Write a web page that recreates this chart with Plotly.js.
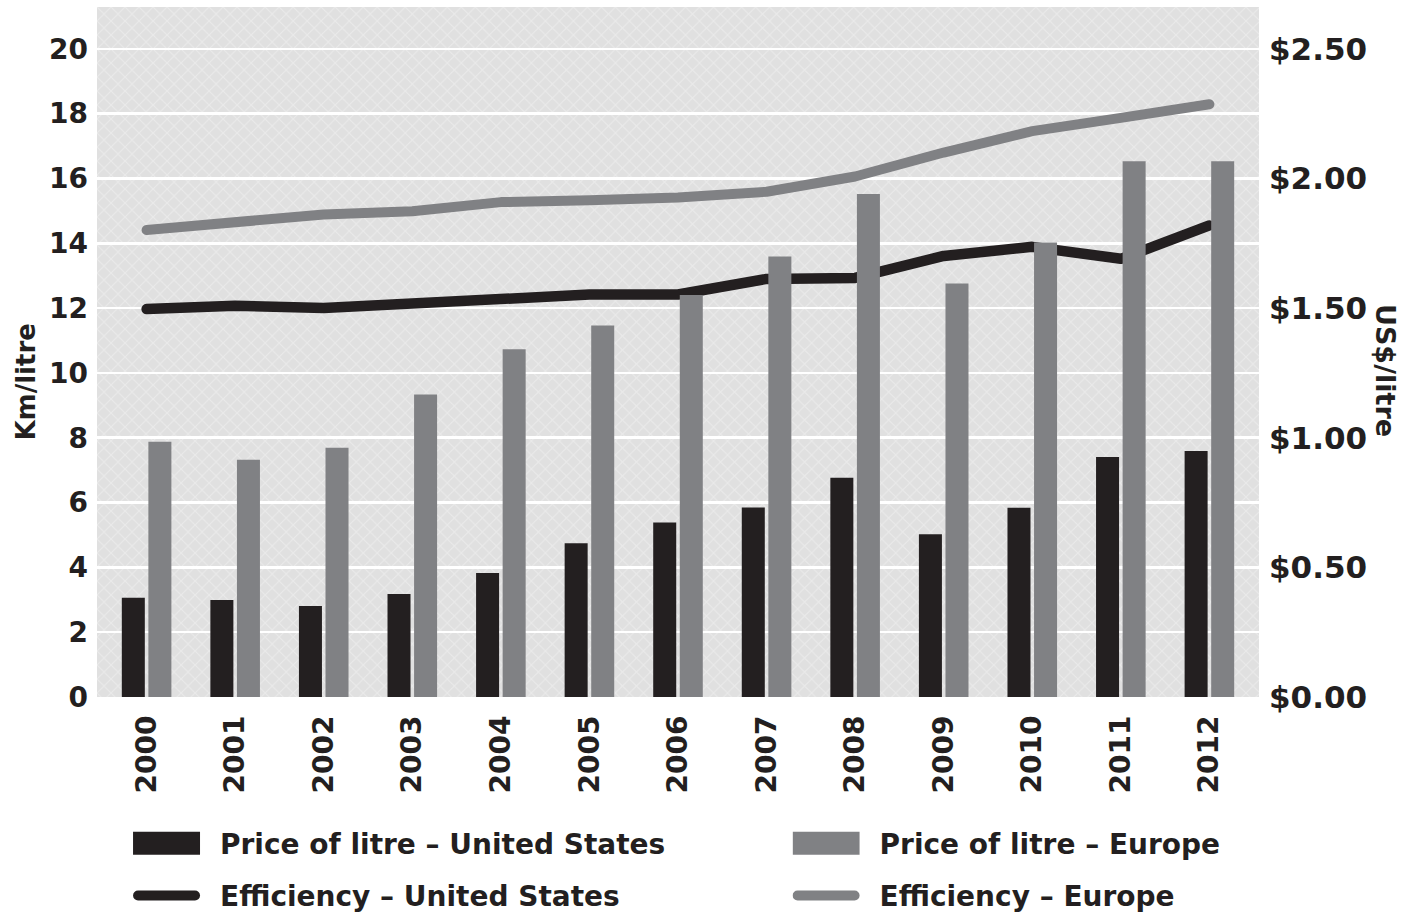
<!DOCTYPE html>
<html>
<head>
<meta charset="utf-8">
<script src="https://cdn.plot.ly/plotly-3.0.1.min.js"></script>
<style>
  html, body { margin: 0; padding: 0; background: #ffffff; }
  #chart { width: 1415px; height: 916px; }
  .scatterlayer .js-line { stroke-linecap: round; stroke-linejoin: round; }
  .legendlines path { stroke-linecap: round; stroke-dasharray: 57 1000; }
</style>
</head>
<body>
<div id="chart"></div>
<script>
// ---- data ----
const years = ['2000','2001','2002','2003','2004','2005','2006','2007','2008','2009','2010','2011','2012'];
// US$/litre (right axis)
const priceUS = [0.383, 0.374, 0.351, 0.397, 0.478, 0.593, 0.673, 0.731, 0.846, 0.628, 0.730, 0.926, 0.949];
const priceEU = [0.984, 0.915, 0.961, 1.167, 1.341, 1.433, 1.550, 1.699, 1.940, 1.595, 1.753, 2.066, 2.066];
// Km/litre (left axis)
const effUS = [11.97, 12.07, 12.00, 12.12, 12.25, 12.42, 12.42, 12.90, 12.93, 13.61, 13.89, 13.52, 14.55];
const effEU = [14.41, 14.67, 14.89, 14.99, 15.27, 15.33, 15.41, 15.59, 16.06, 16.80, 17.46, 17.87, 18.29];
// axis ticks
const leftTicks = [0, 2, 4, 6, 8, 10, 12, 14, 16, 18, 20];
const rightTicks = [0, 0.5, 1.0, 1.5, 2.0, 2.5];
// labels
const names = {
  priceUS: 'Price of litre – United States',
  priceEU: 'Price of litre – Europe',
  effUS: 'Efficiency – United States',
  effEU: 'Efficiency – Europe'
};

const DARK = '#231f20';
const GREY = '#808184';
const FONT = 'DejaVu Sans, Verdana, sans-serif';

const traces = [
  { type: 'bar', x: years, y: priceUS, yaxis: 'y2', name: names.priceUS,
    marker: { color: DARK, line: { width: 0 } }, legend: 'legend', legendgroup: 'a' },
  { type: 'bar', x: years, y: priceEU, yaxis: 'y2', name: names.priceEU,
    marker: { color: GREY, line: { width: 0 } }, legend: 'legend2', legendgroup: 'c' },
  { type: 'scatter', mode: 'lines', x: years, y: effUS, yaxis: 'y', name: names.effUS,
    line: { color: DARK, width: 10.5 }, legend: 'legend', legendgroup: 'b' },
  { type: 'scatter', mode: 'lines', x: years, y: effEU, yaxis: 'y', name: names.effEU,
    line: { color: GREY, width: 10 }, legend: 'legend2', legendgroup: 'd' }
];

// faint cross-hatch texture for the plot background
const hatch = "<svg xmlns='http://www.w3.org/2000/svg' width='1161' height='690'>" +
  "<defs><pattern id='p' width='14' height='14' patternUnits='userSpaceOnUse'>" +
  "<path d='M-1,-1L15,15M15,-1L-1,15' stroke='#eaeaea' stroke-width='1'/></pattern></defs>" +
  "<rect width='100%' height='100%' fill='#e0e0e0'/><rect width='100%' height='100%' fill='url(#p)'/></svg>";
const hatchURI = 'data:image/svg+xml;charset=utf-8,' + encodeURIComponent(hatch);

const legendCommon = {
  orientation: 'v', xanchor: 'left', yanchor: 'top', y: -0.176,
  font: { family: FONT, size: 28, color: DARK, weight: 'bold' },
  bgcolor: 'rgba(0,0,0,0)', borderwidth: 0, itemwidth: 77,
  tracegroupgap: 13, traceorder: 'grouped', itemclick: false, itemdoubleclick: false
};

const layout = {
  width: 1415, height: 916,
  margin: { l: 97, r: 156, t: 7, b: 219, autoexpand: false },
  paper_bgcolor: '#ffffff',
  plot_bgcolor: '#e0e0e0',
  font: { family: FONT, color: DARK, weight: 'bold' },
  barmode: 'group',
  bargap: 0.4,
  bargroupgap: 0.134,
  showlegend: true,
  legend: Object.assign({}, legendCommon, { x: 0.031 }),
  legend2: Object.assign({}, legendCommon, { x: 0.5986 }),
  xaxis: {
    type: 'category', range: [-0.56, 12.56], automargin: false,
    showgrid: false, zeroline: false, showline: false, ticks: '',
    tickangle: -90, ticklabelstandoff: 12,
    tickfont: { family: FONT, size: 28, color: DARK, weight: 'bold' }
  },
  yaxis: {
    range: [0, 21.29], tickmode: 'array', tickvals: leftTicks, automargin: false,
    showgrid: true, gridcolor: '#ffffff', gridwidth: 2.5,
    zeroline: false, showline: false, ticks: '', ticklabelstandoff: 8,
    tickfont: { family: FONT, size: 28, color: DARK, weight: 'bold' }
  },
  yaxis2: {
    overlaying: 'y', side: 'right', automargin: false,
    range: [0, 2.66125], tickmode: 'array', tickvals: rightTicks, tickformat: '$.2f',
    showgrid: false, zeroline: false, showline: false, ticks: '', ticklabelstandoff: 9,
    tickfont: { family: FONT, size: 31, color: DARK, weight: 'bold' }
  },
  images: [{
    source: hatchURI, xref: 'paper', yref: 'paper', x: 0, y: 1, sizex: 1, sizey: 1,
    xanchor: 'left', yanchor: 'top', sizing: 'stretch', layer: 'below'
  }],
  annotations: [
    { text: 'Km/litre', xref: 'paper', yref: 'paper', x: -0.0612, y: 0.457,
      textangle: -90, showarrow: false, xanchor: 'center', yanchor: 'middle',
      font: { family: FONT, size: 26, color: DARK, weight: 'bold' } },
    { text: 'US$/litre', xref: 'paper', yref: 'paper', x: 1.109, y: 0.473,
      textangle: 90, showarrow: false, xanchor: 'center', yanchor: 'middle',
      font: { family: FONT, size: 27, color: DARK, weight: 'bold' } }
  ]
};

Plotly.newPlot('chart', traces, layout, { staticPlot: true, displayModeBar: false }).then(function () {
  // widen the bar swatches in both legends into the reference's flat rectangles
  document.querySelectorAll('.legendpoints path').forEach(function (p) {
    var d = p.getAttribute('d') || '';
    if (d.indexOf('H-6') >= 0) {
      p.setAttribute('d', 'M23.5,11.5H-43.5V-11.5H23.5Z');
    }
  });
});
</script>
</body>
</html>
